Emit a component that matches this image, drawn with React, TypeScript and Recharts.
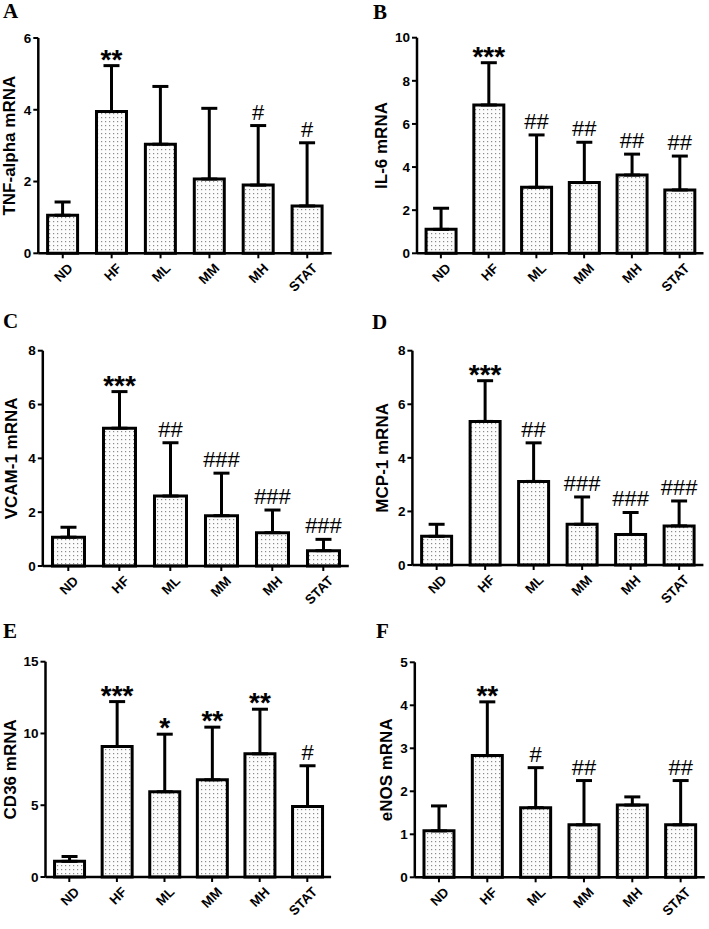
import { BarChart, Bar, XAxis, YAxis, ErrorBar, LabelList } from "recharts";

const FONT = "Arial, 'Liberation Sans', Helvetica, sans-serif";
const SERIF = "'Times New Roman', 'Liberation Serif', 'DejaVu Serif', serif";

const categories = ["ND", "HF", "ML", "MM", "MH", "STAT"];

// A – TNF-alpha
const tnfMean = [1.06, 3.95, 3.04, 2.07, 1.9, 1.32];
const tnfSd = [0.37, 1.28, 1.61, 1.97, 1.66, 1.76];
const tnfMarks = ["", "**", "", "", "#", "#"];
const tnfTicks = [0, 2, 4, 6];

// B – IL-6
const il6Mean = [1.11, 6.88, 3.06, 3.28, 3.63, 2.94];
const il6Sd = [0.98, 1.96, 2.43, 1.87, 0.97, 1.57];
const il6Marks = ["", "***", "##", "##", "##", "##"];
const il6Ticks = [0, 2, 4, 6, 8, 10];

// C – VCAM-1
const vcamMean = [1.07, 5.12, 2.6, 1.87, 1.24, 0.57];
const vcamSd = [0.37, 1.36, 1.98, 1.58, 0.84, 0.42];
const vcamMarks = ["", "***", "##", "###", "###", "###"];
const vcamTicks = [0, 2, 4, 6, 8];

// D – MCP-1
const mcpMean = [1.07, 5.36, 3.12, 1.52, 1.14, 1.46];
const mcpSd = [0.45, 1.52, 1.44, 1.02, 0.82, 0.93];
const mcpMarks = ["", "***", "##", "###", "###", "###"];
const mcpTicks = [0, 2, 4, 6, 8];

// E – CD36
const cd36Mean = [1.09, 9.09, 5.94, 6.77, 8.58, 4.91];
const cd36Sd = [0.34, 3.13, 4.01, 3.67, 3.11, 2.84];
const cd36Marks = ["", "***", "*", "**", "**", "#"];
const cd36Ticks = [0, 5, 10, 15];

// F – eNOS
const enosMean = [1.08, 2.83, 1.62, 1.22, 1.68, 1.22];
const enosSd = [0.58, 1.25, 0.93, 1.03, 0.19, 1.03];
const enosMarks = ["", "**", "#", "##", "", "##"];
const enosTicks = [0, 1, 2, 3, 4, 5];

interface Box {
  left: number;
  top: number;
  width: number;
  height: number;
  axisX: number;
  axisEnd: number;
  plotTop: number;
  plotBottom: number;
  labelX: number;
  letterX: number;
  letterY: number;
}

interface Panel {
  id: string;
  title: string;
  mean: number[];
  sd: number[];
  marks: string[];
  ticks: number[];
  box: Box;
}

const X_AXIS_HEIGHT = 50;

const panels: Panel[] = [
  {
    id: "A", title: "TNF-alpha mRNA", mean: tnfMean, sd: tnfSd, marks: tnfMarks, ticks: tnfTicks,
    box: { left: 0, top: 0, width: 354, height: 310, axisX: 38.3, axisEnd: 331.7, plotTop: 38, plotBottom: 253.3, labelX: 10, letterX: 3, letterY: 18 },
  },
  {
    id: "B", title: "IL-6 mRNA", mean: il6Mean, sd: il6Sd, marks: il6Marks, ticks: il6Ticks,
    box: { left: 354, top: 0, width: 355, height: 310, axisX: 417, axisEnd: 703.5, plotTop: 37.7, plotBottom: 253.3, labelX: 381.5, letterX: 373, letterY: 19 },
  },
  {
    id: "C", title: "VCAM-1 mRNA", mean: vcamMean, sd: vcamSd, marks: vcamMarks, ticks: vcamTicks,
    box: { left: 0, top: 310, width: 354, height: 310, axisX: 42.8, axisEnd: 348.8, plotTop: 350.7, plotBottom: 566, labelX: 12, letterX: 3, letterY: 328 },
  },
  {
    id: "D", title: "MCP-1 mRNA", mean: mcpMean, sd: mcpSd, marks: mcpMarks, ticks: mcpTicks,
    box: { left: 354, top: 310, width: 355, height: 310, axisX: 412.4, axisEnd: 703.4, plotTop: 350.7, plotBottom: 565, labelX: 382.5, letterX: 372, letterY: 329 },
  },
  {
    id: "E", title: "CD36 mRNA", mean: cd36Mean, sd: cd36Sd, marks: cd36Marks, ticks: cd36Ticks,
    box: { left: 0, top: 620, width: 354, height: 309, axisX: 45.5, axisEnd: 331.1, plotTop: 661.7, plotBottom: 877, labelX: 11, letterX: 3, letterY: 638 },
  },
  {
    id: "F", title: "eNOS mRNA", mean: enosMean, sd: enosSd, marks: enosMarks, ticks: enosTicks,
    box: { left: 354, top: 620, width: 355, height: 309, axisX: 414.8, axisEnd: 704.8, plotTop: 662.3, plotBottom: 877.3, labelX: 386.5, letterX: 376, letterY: 638 },
  },
];

function buildRows(p: Panel) {
  return categories.map((name, i) => ({
    name,
    mean: p.mean[i],
    sd: p.sd[i],
    err: [0, p.sd[i]],
    mark: p.marks[i],
  }));
}

function XTick(props: any) {
  const { x, y, payload } = props;
  const px = Number(x) + 4;
  const py = Number(y);
  return (
    <text
      x={px}
      y={py}
      dy="0.71em"
      transform={`rotate(-45, ${px}, ${py})`}
      textAnchor="end"
      fontFamily={FONT}
      fontWeight="bold"
      fontSize={13.5}
      fill="#000"
    >
      {payload.value}
    </text>
  );
}

// significance marks sit on top of the (invisible) sd segment
function MarkLabel(props: any) {
  const vb = props.viewBox ?? props;
  const value = props.value;
  if (!value) return null;
  const cx = Number(vb.x) + Number(vb.width) / 2;
  const top = Number(vb.y);
  const isStar = String(value).startsWith("*");
  return (
    <text
      x={cx}
      y={isStar ? top + 3 : top - 6}
      textAnchor="middle"
      fontFamily={FONT}
      fontWeight={isStar ? "bold" : "normal"}
      fontSize={isStar ? 28 : 22}
      fill="#000"
    >
      {value}
    </text>
  );
}

function PanelChart({ p }: { p: Panel }) {
  const b = p.box;
  const rows = buildRows(p);
  const max = p.ticks[p.ticks.length - 1];
  return (
    <div style={{ position: "absolute", left: b.left, top: b.top, width: b.width, height: b.height }}>
      <BarChart
        width={b.width}
        height={b.height}
        data={rows}
        barCategoryGap="19%"
        margin={{
          top: b.plotTop - b.top,
          right: b.left + b.width - b.axisEnd,
          bottom: b.top + b.height - b.plotBottom - X_AXIS_HEIGHT,
          left: 0,
        }}
      >
        <defs>
          <pattern id={`dots-${p.id}`} width={4} height={4} patternUnits="userSpaceOnUse">
            <rect width={4} height={4} fill="#fcfcfc" />
            <rect x={1} y={1} width={1.2} height={1.2} fill="#8a8a8a" />
          </pattern>
        </defs>
        <XAxis
          dataKey="name"
          interval={0}
          height={X_AXIS_HEIGHT}
          tickSize={5}
          tickMargin={4}
          axisLine={{ stroke: "#000", strokeWidth: 2.5 }}
          tickLine={{ stroke: "#000", strokeWidth: 2 }}
          tick={<XTick />}
        />
        <YAxis
          width={b.axisX - b.left}
          domain={[0, max]}
          ticks={p.ticks}
          interval={0}
          tickSize={5}
          tickMargin={2}
          axisLine={{ stroke: "#000", strokeWidth: 2.5 }}
          tickLine={{ stroke: "#000", strokeWidth: 2 }}
          tick={{ fill: "#000", fontSize: 13.5, fontWeight: "bold", fontFamily: FONT }}
        />
        <Bar
          dataKey="mean"
          stackId="s"
          fill={`url(#dots-${p.id})`}
          stroke="#000"
          strokeWidth={3}
          isAnimationActive={false}
        >
          <ErrorBar dataKey="err" width={8} stroke="#000" strokeWidth={3} direction="y" />
        </Bar>
        <Bar dataKey="sd" stackId="s" fill="none" stroke="none" isAnimationActive={false}>
          <LabelList dataKey="mark" content={<MarkLabel />} />
        </Bar>
      </BarChart>
    </div>
  );
}

export default function App() {
  return (
    <div
      style={{
        position: "absolute",
        left: 0,
        top: 0,
        width: 709,
        height: 929,
        background: "#fff",
        overflow: "hidden",
      }}
    >
      {panels.map((p) => (
        <PanelChart key={p.id} p={p} />
      ))}
      <svg
        width={709}
        height={929}
        style={{ position: "absolute", left: 0, top: 0, pointerEvents: "none" }}
      >
        {panels.map((p) => {
          const b = p.box;
          const cy = (b.plotTop + b.plotBottom) / 2;
          return (
            <g key={p.id}>
              <text x={b.letterX} y={b.letterY} fontFamily={SERIF} fontWeight="bold" fontSize={21} fill="#000">
                {p.id}
              </text>
              <text
                x={b.labelX}
                y={cy}
                transform={`rotate(-90, ${b.labelX}, ${cy})`}
                textAnchor="middle"
                dominantBaseline="central"
                fontFamily={FONT}
                fontWeight="bold"
                fontSize={17}
                fill="#000"
              >
                {p.title}
              </text>
            </g>
          );
        })}
      </svg>
    </div>
  );
}
